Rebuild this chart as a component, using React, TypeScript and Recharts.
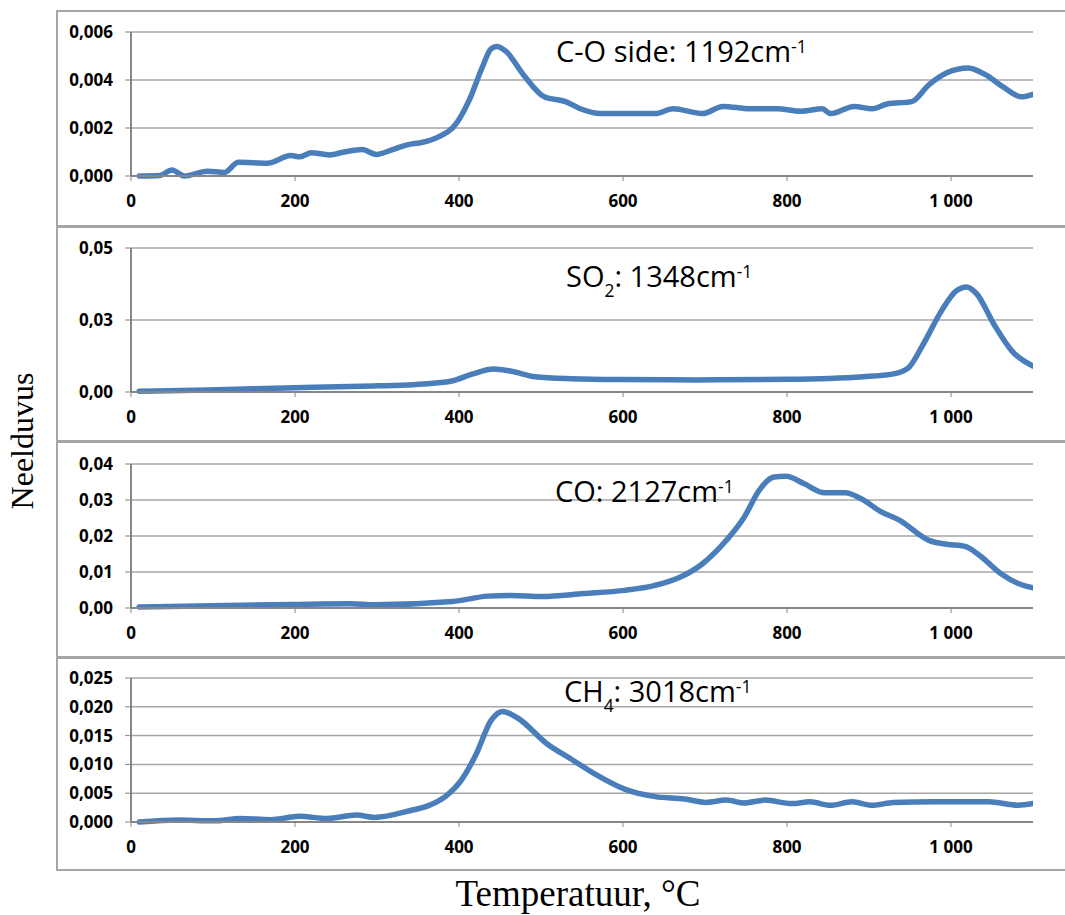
import { LineChart, Line, XAxis, YAxis, CartesianGrid } from "recharts";

// C-O side: 1192 cm-1
const coSideT = [10, 35, 50, 65, 93, 114, 131, 166, 195, 206, 220, 242, 260, 282, 299, 319, 337, 355, 373, 397, 413, 428, 439, 446, 457, 479, 504, 530, 548, 573, 595, 639, 661, 697, 722, 755, 788, 817, 843, 853, 882, 904, 922, 952, 973, 995, 1021, 1043, 1064, 1086, 1100];
const coSideV = [0, 0.00002, 0.00025, 0, 0.0002, 0.00015, 0.00057, 0.00053, 0.00085, 0.0008, 0.00097, 0.00088, 0.001, 0.0011, 0.0009, 0.0011, 0.0013, 0.0014, 0.0016, 0.0022, 0.0032, 0.0045, 0.0053, 0.0054, 0.0052, 0.0042, 0.0033, 0.0031, 0.0028, 0.0026, 0.0026, 0.0026, 0.0028, 0.0026, 0.0029, 0.0028, 0.0028, 0.0027, 0.0028, 0.0026, 0.0029, 0.0028, 0.003, 0.0031, 0.0038, 0.0043, 0.0045, 0.0042, 0.0037, 0.0033, 0.0034];

// SO2: 1348 cm-1
const so2T = [10, 93, 188, 282, 362, 391, 417, 442, 464, 493, 537, 595, 690, 800, 893, 930, 948, 966, 988, 1006, 1019, 1031, 1053, 1075, 1100];
const so2V = [0.0003, 0.0007, 0.0014, 0.002, 0.0029, 0.0038, 0.0063, 0.008, 0.0072, 0.0053, 0.0046, 0.0043, 0.0042, 0.0044, 0.0053, 0.0063, 0.0084, 0.0165, 0.028, 0.035, 0.0365, 0.0342, 0.0232, 0.014, 0.009];

// CO: 2127 cm-1
const coT = [10, 195, 268, 297, 392, 435, 464, 501, 552, 602, 639, 668, 697, 726, 748, 766, 784, 799, 821, 846, 871, 890, 915, 937, 973, 995, 1017, 1035, 1061, 1082, 1100];
const coV = [0.0003, 0.001, 0.0012, 0.0009, 0.0018, 0.0033, 0.0035, 0.0032, 0.004, 0.0049, 0.0063, 0.0084, 0.0123, 0.0188, 0.0253, 0.0327, 0.0364, 0.0366, 0.0345, 0.032, 0.032, 0.0304, 0.0267, 0.0244, 0.0188, 0.0177, 0.0171, 0.0146, 0.0095, 0.0068, 0.0056];

// CH4: 3018 cm-1
const ch4T = [10, 57, 101, 133, 170, 206, 239, 275, 297, 341, 362, 384, 402, 421, 439, 453, 471, 508, 537, 566, 602, 639, 675, 701, 726, 748, 773, 806, 828, 853, 879, 904, 930, 981, 1046, 1082, 1100];
const ch4V = [0, 0.00035, 0.0002, 0.0006, 0.0004, 0.001, 0.0006, 0.0012, 0.0008, 0.002, 0.0028, 0.0045, 0.0071, 0.0118, 0.0176, 0.0192, 0.0181, 0.0135, 0.0109, 0.0083, 0.0057, 0.0044, 0.004, 0.0034, 0.0038, 0.0033, 0.0038, 0.0032, 0.0035, 0.0029, 0.0035, 0.0029, 0.0034, 0.0035, 0.0035, 0.0029, 0.0032];

const xTicks = [0, 200, 400, 600, 800, 1000];
const coSideTicks = [0, 0.002, 0.004, 0.006];
const so2Ticks = [0, 0.025, 0.05];
const coTicks = [0, 0.01, 0.02, 0.03, 0.04];
const ch4Ticks = [0, 0.005, 0.01, 0.015, 0.02, 0.025];

const BLUE = "#4a7ebb";
const GRID = "#a6a6a6";
const AXIS = "#868686";
const tickFont = { fontFamily: "Open Sans", fontSize: 17, fontWeight: 700, fill: "#000" };

const fmtX = (v: number) => String(v).replace(/\B(?=(\d{3})+(?!\d))/g, " ");

interface PanelProps {
  temps: number[];
  values: number[];
  ticks: number[];
  digits: number;
  plotTop: number;
  boxTop: number;
  boxBottom: number;
}

function Panel({ temps, values, ticks, digits, plotTop, boxTop, boxBottom }: PanelProps) {
  const data = temps.map((t, i) => ({ t, v: values[i] }));
  return (
    <>
      <div
        style={{
          position: "absolute",
          left: 56,
          top: boxTop,
          width: 1030,
          height: boxBottom - boxTop,
          border: `2px solid ${GRID}`,
          boxSizing: "border-box",
        }}
      />
      <div style={{ position: "absolute", left: 56, top: plotTop - 20 }}>
        <LineChart width={1009} height={204} data={data} margin={{ top: 20, right: 32, left: 15, bottom: 10 }}>
          <CartesianGrid vertical={false} stroke={GRID} strokeWidth={1.5} />
          <XAxis
            dataKey="t"
            type="number"
            domain={[0, 1100]}
            ticks={xTicks}
            allowDataOverflow
            tickFormatter={fmtX}
            tick={tickFont}
            tickSize={5}
            tickMargin={14}
            height={30}
            axisLine={{ stroke: AXIS, strokeWidth: 2 }}
            tickLine={{ stroke: AXIS }}
          />
          <YAxis
            type="number"
            domain={[ticks[0], ticks[ticks.length - 1]]}
            ticks={ticks}
            tickFormatter={(v: number) => v.toFixed(digits).replace(".", ",")}
            tick={tickFont}
            width={60}
            tickSize={6}
            tickMargin={12}
            axisLine={{ stroke: AXIS, strokeWidth: 2 }}
            tickLine={{ stroke: AXIS }}
          />
          <Line
            type="monotone"
            dataKey="v"
            stroke={BLUE}
            strokeWidth={5.5}
            strokeLinecap="round"
            dot={false}
            isAnimationActive={false}
          />
        </LineChart>
      </div>
    </>
  );
}

const noteStyle = {
  position: "absolute" as const,
  fontFamily: "Open Sans",
  fontSize: 29,
  lineHeight: 1,
  color: "#000",
  whiteSpace: "nowrap" as const,
};
const supStyle = { fontSize: "0.6em", position: "relative" as const, top: "-0.5em" };
const subStyle = { fontSize: "0.6em", position: "relative" as const, top: "0.6em" };

export default function App() {
  return (
    <div
      style={{
        position: "absolute",
        left: 0,
        top: 0,
        width: 1065,
        height: 915,
        overflow: "hidden",
        background: "#fff",
      }}
    >
      <Panel temps={coSideT} values={coSideV} ticks={coSideTicks} digits={3} plotTop={32} boxTop={10} boxBottom={227} />
      <Panel temps={so2T} values={so2V} ticks={so2Ticks} digits={2} plotTop={248} boxTop={226} boxBottom={442} />
      <Panel temps={coT} values={coV} ticks={coTicks} digits={2} plotTop={464} boxTop={441} boxBottom={658} />
      <Panel temps={ch4T} values={ch4V} ticks={ch4Ticks} digits={3} plotTop={678} boxTop={657} boxBottom={871} />

      <div style={{ ...noteStyle, left: 556, top: 36 }}>
        C-O side: 1192cm<span style={supStyle}>-1</span>
      </div>
      <div style={{ ...noteStyle, left: 566, top: 261 }}>
        SO<span style={subStyle}>2</span>: 1348cm<span style={supStyle}>-1</span>
      </div>
      <div style={{ ...noteStyle, left: 555, top: 476 }}>
        CO: 2127cm<span style={supStyle}>-1</span>
      </div>
      <div style={{ ...noteStyle, left: 564, top: 676 }}>
        CH<span style={subStyle}>4</span>: 3018cm<span style={supStyle}>-1</span>
      </div>

      <div
        style={{
          position: "absolute",
          left: 22,
          top: 441,
          transform: "translate(-50%, -50%) rotate(-90deg)",
          fontFamily: "Liberation Serif",
          fontSize: 32,
          whiteSpace: "nowrap",
          color: "#000",
        }}
      >
        Neelduvus
      </div>
      <div
        style={{
          position: "absolute",
          left: 578,
          top: 893,
          transform: "translate(-50%, -50%)",
          fontFamily: "Liberation Serif",
          fontSize: 37,
          lineHeight: 1,
          whiteSpace: "nowrap",
          color: "#000",
        }}
      >
        Temperatuur, °C
      </div>
    </div>
  );
}
